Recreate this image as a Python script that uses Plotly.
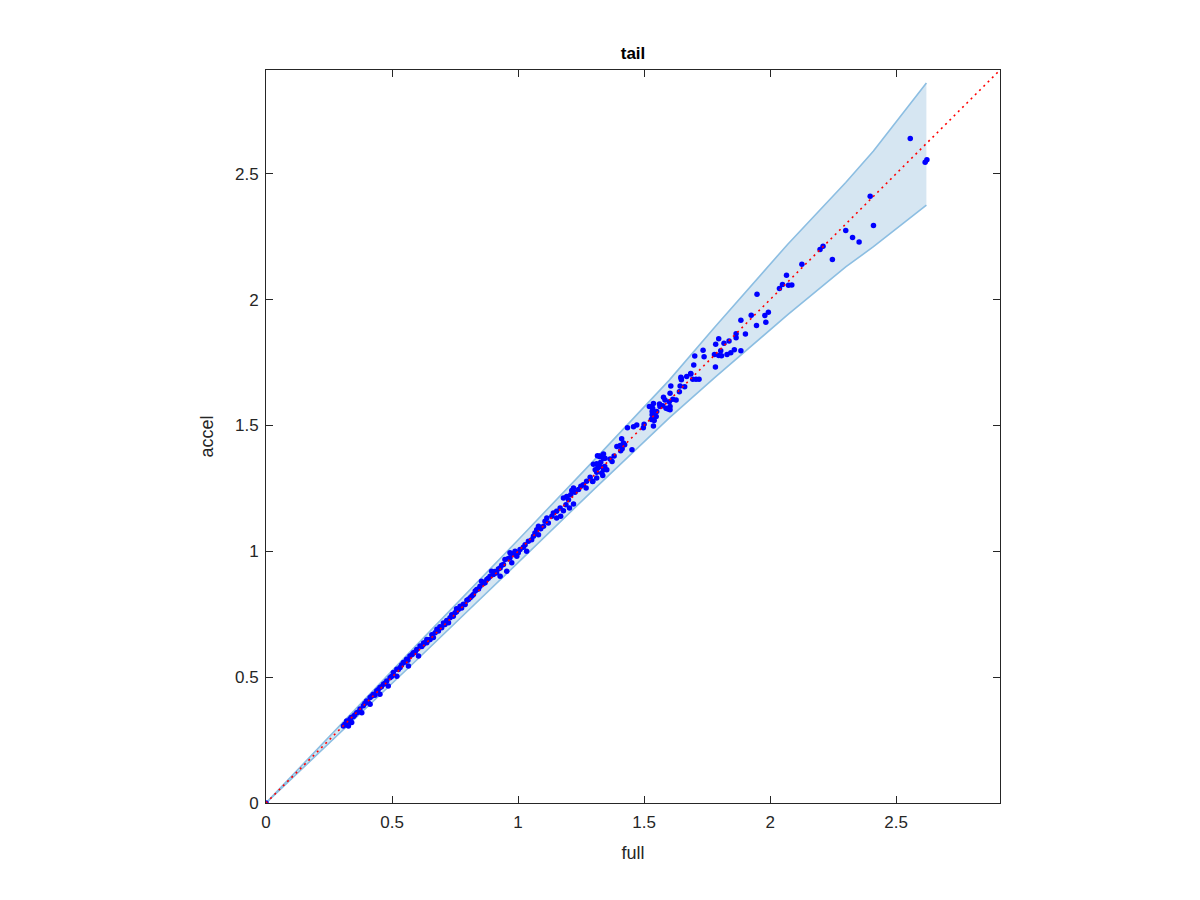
import plotly.graph_objects as go

# ---- data ----
full_vals = [
    0.0,
    0.307, 0.313, 0.320, 0.327, 0.333, 0.340, 0.347, 0.360, 0.373, 0.380, 0.386, 0.399, 0.413, 0.413,
    0.426, 0.439, 0.452, 0.452, 0.466, 0.479, 0.485, 0.492, 0.505, 0.519, 0.519, 0.532, 0.545, 0.558,
    0.565, 0.571, 0.585, 0.598, 0.605, 0.611, 0.631, 0.638,
    0.318, 0.325, 0.338, 0.352, 0.366, 0.392, 0.405, 0.420, 0.432, 0.445, 0.458, 0.472, 0.498, 0.525,
    0.538, 0.552, 0.563, 0.580, 0.592, 0.618, 0.625, 0.645,
    1.008, 0.988, 0.995, 0.968, 0.975, 0.948, 0.942, 0.929, 0.915, 0.902, 0.889, 0.876, 0.869, 0.849,
    0.836, 0.823, 0.810, 0.803, 0.790, 0.776, 0.763, 0.750, 0.743, 0.730, 0.724, 0.710, 0.697, 0.684,
    0.671, 0.664, 0.651, 0.638, 0.624, 0.895, 0.855, 0.756, 0.929, 0.955,
    0.658, 0.678, 0.690, 0.704, 0.717, 0.737, 0.756, 0.770, 0.783, 0.797, 0.817, 0.830, 0.843, 0.862,
    0.882, 0.908, 0.922, 0.935, 0.960, 0.982,
    1.323, 1.345, 1.328, 1.315, 1.341, 1.352, 1.332, 1.312, 1.296, 1.286, 1.272, 1.259, 1.270, 1.249,
    1.240, 1.226, 1.220, 1.213, 1.209, 1.193, 1.180, 1.200, 1.220, 1.190, 1.167, 1.180, 1.204, 1.153,
    1.140, 1.169, 1.153, 1.134, 1.114, 1.107, 1.120, 1.101, 1.081, 1.074, 1.090, 1.067, 1.081, 1.061,
    1.054, 1.041, 1.028, 1.021, 1.034, 1.001, 0.981, 0.968,
    1.640, 1.603, 1.627, 1.574, 1.595, 1.603, 1.521, 1.532, 1.537, 1.529, 1.540, 1.548, 1.537, 1.500,
    1.497, 1.471, 1.458, 1.434, 1.411, 1.418, 1.405, 1.423, 1.392, 1.413, 1.407, 1.452, 1.381, 1.365,
    1.373, 1.339, 1.325, 1.339, 1.315, 1.299, 1.312, 1.325, 1.344, 1.339, 1.306, 1.336, 1.312, 1.296,
    1.606, 1.643, 1.661, 1.646, 1.648, 1.685, 1.693, 1.706, 1.718, 1.577, 1.583, 1.600, 1.603, 1.614,
    1.587, 1.561, 1.563, 1.537, 1.534, 1.550, 1.532,
    2.556, 2.615, 2.622, 2.397, 2.410, 2.300, 2.327, 2.353, 2.198, 2.210, 2.247, 2.126, 2.065, 2.037,
    2.049, 2.073, 2.086, 1.948, 1.925, 1.979, 1.993, 1.884, 1.946, 1.983, 1.902, 1.865, 1.865, 1.796,
    1.784, 1.817, 1.837, 1.734, 1.701, 1.738, 1.697, 1.779, 1.796, 1.807, 1.829, 1.844, 1.858, 1.884,
    1.804, 1.783, 1.647, 1.669, 1.685,
]
accel_vals = [
    0.0,
    0.306, 0.313, 0.326, 0.306, 0.333, 0.320, 0.344, 0.359, 0.373, 0.359, 0.386, 0.405, 0.419, 0.392,
    0.432, 0.445, 0.459, 0.432, 0.472, 0.485, 0.465, 0.498, 0.518, 0.531, 0.504, 0.538, 0.558, 0.571,
    0.544, 0.584, 0.597, 0.610, 0.584, 0.624, 0.637, 0.650,
    0.312, 0.318, 0.340, 0.350, 0.362, 0.395, 0.400, 0.425, 0.428, 0.450, 0.462, 0.476, 0.503, 0.530,
    0.548, 0.560, 0.567, 0.590, 0.600, 0.622, 0.636, 0.648,
    1.007, 1.000, 0.980, 0.974, 0.954, 0.967, 0.947, 0.934, 0.914, 0.908, 0.901, 0.888, 0.875, 0.861,
    0.848, 0.828, 0.815, 0.808, 0.789, 0.775, 0.769, 0.756, 0.742, 0.736, 0.716, 0.709, 0.696, 0.683,
    0.676, 0.657, 0.650, 0.637, 0.630, 0.921, 0.881, 0.772, 0.901, 0.921,
    0.668, 0.690, 0.700, 0.715, 0.725, 0.748, 0.760, 0.782, 0.790, 0.805, 0.822, 0.842, 0.850, 0.872,
    0.893, 0.920, 0.930, 0.945, 0.970, 0.990,
    1.377, 1.370, 1.354, 1.330, 1.333, 1.324, 1.311, 1.291, 1.278, 1.294, 1.278, 1.264, 1.251, 1.258,
    1.245, 1.235, 1.251, 1.241, 1.225, 1.218, 1.212, 1.205, 1.188, 1.185, 1.172, 1.161, 1.172, 1.159,
    1.152, 1.139, 1.132, 1.139, 1.132, 1.119, 1.112, 1.099, 1.099, 1.086, 1.090, 1.073, 1.066, 1.060,
    1.046, 1.040, 1.026, 1.016, 1.000, 0.994, 0.987, 0.994,
    1.634, 1.628, 1.601, 1.578, 1.565, 1.562, 1.575, 1.555, 1.539, 1.524, 1.520, 1.535, 1.498, 1.505,
    1.491, 1.502, 1.495, 1.491, 1.447, 1.430, 1.420, 1.423, 1.416, 1.407, 1.399, 1.403, 1.379, 1.367,
    1.357, 1.386, 1.379, 1.369, 1.380, 1.346, 1.348, 1.337, 1.337, 1.324, 1.324, 1.301, 1.314, 1.277,
    1.657, 1.657, 1.654, 1.691, 1.681, 1.704, 1.683, 1.683, 1.683, 1.612, 1.601, 1.594, 1.575, 1.604,
    1.568, 1.585, 1.575, 1.587, 1.568, 1.555, 1.542,
    2.640, 2.546, 2.555, 2.410, 2.294, 2.274, 2.247, 2.229, 2.199, 2.212, 2.159, 2.140, 2.097, 2.044,
    2.060, 2.057, 2.058, 2.021, 1.938, 1.937, 1.950, 1.918, 1.897, 1.910, 1.863, 1.864, 1.848, 1.844,
    1.822, 1.826, 1.835, 1.799, 1.776, 1.773, 1.740, 1.782, 1.778, 1.777, 1.782, 1.789, 1.801, 1.797,
    1.797, 1.732, 1.687, 1.694, 1.706,
]

band_x = [0.0, 0.31, 0.6, 1.0, 1.3, 1.6, 1.78, 2.07, 2.3, 2.41, 2.62]
band_upper = [0.0, 0.325, 0.63, 1.045, 1.36, 1.68, 1.89, 2.22, 2.465, 2.59, 2.86]
band_lower = [0.0, 0.295, 0.57, 0.955, 1.245, 1.53, 1.69, 1.94, 2.13, 2.21, 2.375]

ref_x = [0.0, 2.912]
ref_y = [0.0, 2.912]

tick_vals = [0, 0.5, 1, 1.5, 2, 2.5]
tick_text = ["0", "0.5", "1", "1.5", "2", "2.5"]

axis_range = [0, 2.912]

# ---- figure ----
band_line = "rgb(140,190,226)"
band_fill = "rgb(214,230,242)"
FONT = "Liberation Sans, Arial, sans-serif"

fig = go.Figure()
fig.add_trace(go.Scatter(
    x=band_x + band_x[::-1], y=band_upper + band_lower[::-1],
    fill="toself", fillcolor=band_fill, line=dict(width=0),
    mode="lines", hoverinfo="skip", showlegend=False))
fig.add_trace(go.Scatter(x=band_x, y=band_upper, mode="lines",
                         line=dict(color=band_line, width=1.6), showlegend=False))
fig.add_trace(go.Scatter(x=band_x, y=band_lower, mode="lines",
                         line=dict(color=band_line, width=1.6), showlegend=False))
fig.add_trace(go.Scatter(x=full_vals, y=accel_vals, mode="markers",
                         marker=dict(color="rgb(0,0,255)", size=5.5, line=dict(width=0)),
                         showlegend=False))
fig.add_trace(go.Scatter(x=ref_x, y=ref_y, mode="lines",
                         line=dict(color="rgb(255,0,0)", width=1.6, dash="2px,4px"),
                         showlegend=False))

axis_common = dict(
    range=axis_range, showgrid=False, zeroline=False,
    showline=True, linecolor="#262626", linewidth=1, mirror="ticks",
    ticks="inside", ticklen=7, tickwidth=1, tickcolor="#262626",
    tickvals=tick_vals, ticktext=tick_text,
    tickfont=dict(family=FONT, size=17, color="#262626"),
)

# page has an 8px body margin, so margins are offset to land the plot at 266..1000 x 70..803
fig.update_layout(
    width=1200, height=900,
    paper_bgcolor="white", plot_bgcolor="white",
    margin=dict(l=258, r=208, t=62, b=105),
    title=dict(text="<b>tail</b>", x=625 / 1200, xanchor="center", y=1 - 45 / 900, yanchor="middle",
               font=dict(family=FONT, size=17, color="black")),
    xaxis=dict(**axis_common, ticklabelstandoff=4,
               title=dict(text="full", standoff=14,
                          font=dict(family=FONT, size=18, color="#262626"))),
    yaxis=dict(**axis_common, ticklabelstandoff=3,
               title=dict(text="accel", standoff=16,
                          font=dict(family=FONT, size=18, color="#262626"))),
)

fig.write_html("out.html")
